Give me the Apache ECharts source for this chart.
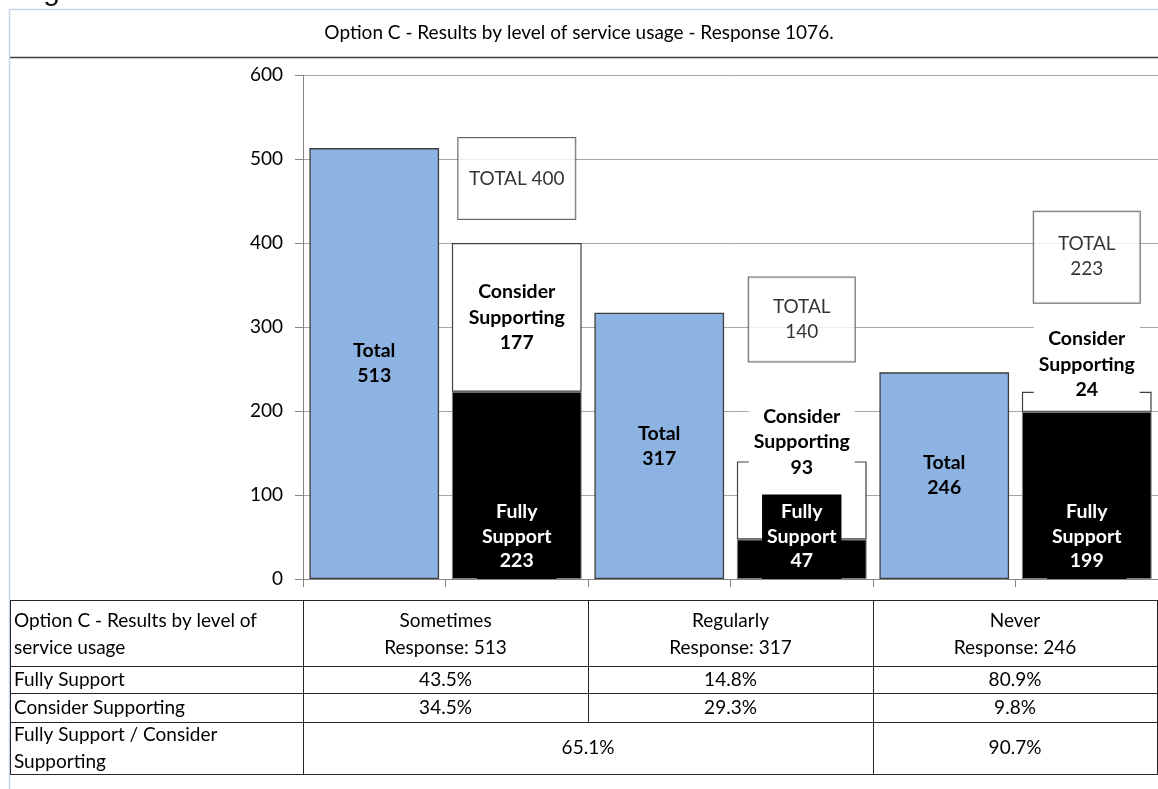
<!DOCTYPE html>
<html><head><meta charset="utf-8">
<script src="https://cdn.jsdelivr.net/npm/echarts@6/dist/echarts.min.js"></script>
<style>html,body{margin:0;padding:0;background:#fff}#c{width:1158px;height:789px}</style>
</head><body><div id="c"></div>
<script>
// ---- data ----
const groups = ['Sometimes', 'Regularly', 'Never'];
const totals = [513, 317, 246];
const fullySupport = [223, 47, 199];
const considerSupporting = [177, 93, 24];
const yTicks = [0, 100, 200, 300, 400, 500, 600];
const tableTitle = 'Option C - Results by level of\nservice usage';
const rowLabels = ['Fully Support', 'Consider Supporting', 'Fully Support / Consider\nSupporting'];
const fullyPct = ['43.5%', '14.8%', '80.9%'];
const considerPct = ['34.5%', '29.3%', '9.8%'];
const combinedPct = ['65.1%', '90.7%'];
const chartTitle = 'Option C - Results by level of service usage - Response 1076.';

// ---- layout/style (not data) ----
const FONT = 'Lato, "Open Sans", sans-serif';
const GL = 303, GR = 0, GT = 75, GB = 210;
const W = 1158;
const considerLabelPos = [{position: 'inside'}, {position: 'top', distance: -21}, {position: 'top', distance: -13}];
const totalBoxStyle = [
  {sep: ' ', distance: 24, width: 117, padding: [28, 0, 28, 0]},
  {sep: '\n', distance: 100, width: 106, padding: [17, 0, 17, 0]},
  {sep: '\n', distance: 89, width: 106, padding: [20, 0, 21, 0]}
];

// build 6 categories: each group has a "total" slot and a "support" slot
const cats = [];
groups.forEach(g => { cats.push(g + ' total'); cats.push(g + ' support'); });
const totalData = [], fullyData = [], considerData = [], boxData = [];
groups.forEach((g, i) => {
  totalData.push(totals[i], null);
  fullyData.push(null, fullySupport[i]);
  considerData.push(null, {value: considerSupporting[i], label: considerLabelPos[i]});
  const s = totalBoxStyle[i];
  boxData.push({
    value: [2 * i + 1, fullySupport[i] + considerSupporting[i]],
    label: {
      formatter: 'TOTAL' + s.sep + (fullySupport[i] + considerSupporting[i]),
      distance: s.distance, width: s.width, padding: s.padding
    }
  });
});

const chart = echarts.init(document.getElementById('c'), null, {renderer: 'canvas'});

const option = {
  animation: false,
  backgroundColor: '#fff',
  grid: {left: GL, right: GR, top: GT, bottom: GB, containLabel: false},
  xAxis: {
    type: 'category', data: cats,
    axisLine: {lineStyle: {color: '#868686', width: 1}},
    axisTick: {show: true, length: 8, lineStyle: {color: '#868686'}},
    axisLabel: {show: false},
    splitLine: {show: false}
  },
  yAxis: {
    type: 'value', min: 0, max: 600, interval: 100,
    axisLine: {show: true, lineStyle: {color: '#868686'}},
    axisTick: {show: true, length: 8, lineStyle: {color: '#868686'}},
    axisLabel: {color: '#000', fontSize: 19, fontFamily: FONT, margin: 20,
      formatter: v => yTicks.indexOf(v) >= 0 ? String(v) : ''},
    splitLine: {lineStyle: {color: '#a6a6a6', width: 1}}
  },
  series: [
    {
      type: 'bar', name: 'Total', stack: 's', data: totalData, barCategoryGap: '9%',
      itemStyle: {color: '#8db3e2', borderColor: '#3f3f3f', borderWidth: 1.3},
      label: {show: true, position: 'inside', formatter: 'Total\n{c}', color: '#000',
        fontWeight: 'bold', fontSize: 19.5, lineHeight: 25, fontFamily: FONT}
    },
    {
      type: 'bar', name: 'Fully Support', stack: 's', data: fullyData,
      itemStyle: {color: '#000', borderColor: '#7f7f7f', borderWidth: 1},
      label: {show: true, position: 'insideBottom', distance: 0, formatter: 'Fully\nSupport\n{c}',
        color: '#fff', fontWeight: 'bold', fontSize: 19.5, lineHeight: 24.5, fontFamily: FONT,
        backgroundColor: '#000', padding: [5, 5, 6, 5]}
    },
    {
      type: 'bar', name: 'Consider Supporting', stack: 's', data: considerData,
      itemStyle: {color: '#fff', borderColor: '#404040', borderWidth: 1.2},
      label: {show: true, formatter: 'Consider\nSupporting\n{c}', color: '#000',
        fontWeight: 'bold', fontSize: 19.5, lineHeight: 25.5, fontFamily: FONT,
        backgroundColor: '#fff', width: 106, align: 'center', padding: [2, 0, 2, 0]}
    },
    {
      type: 'scatter', name: 'TOTAL', data: boxData, symbolSize: 0, z: 5,
      label: {show: true, position: 'top', color: '#000', fontSize: 19, lineHeight: 25,
        fontFamily: FONT, backgroundColor: '#fff', borderColor: '#404040', borderWidth: 1,
        align: 'center'}
    }
  ]
};
chart.setOption(option);

// ---- frame, title and data table ----
const band = (W - GL - GR) / cats.length;
const colX = [10, GL, GL + 2 * band, GL + 4 * band, W - 1];
const rowY = [600, 666, 693, 722, 774];
const g = [];
const line = (x1, y1, x2, y2, color, w) => g.push({type: 'line', shape: {x1, y1, x2, y2},
  style: {stroke: color, lineWidth: w || 1}, silent: true});
const text = (x, y, t, align, extra) => g.push({type: 'text', x, y, silent: true,
  style: Object.assign({text: t, fill: '#000', font: '19px ' + FONT, align: align || 'left',
    verticalAlign: 'middle', lineHeight: 27}, extra || {})});

// partially visible heading above the chart frame
text(-5, -8, 'usage', 'left', {font: '30px "Liberation Sans", Arial, sans-serif', fill: '#111', verticalAlign: 'middle', lineHeight: 30});
// outer light frame
line(9.5, 9.5, W, 9.5, '#c9d5e6', 1.5);
line(9.5, 9.5, 9.5, 789, '#c9d5e6', 1.5);
// title + separator
text(W / 2, 33, chartTitle, 'center');
line(10, 57.5, W, 57.5, '#404040', 1.5);
// table lines
rowY.forEach(y => line(colX[0], y + 0.5, W, y + 0.5, '#262626', 1));
[0, 1, 3, 4].forEach(k => line(Math.round(colX[k]) + 0.5, rowY[0], Math.round(colX[k]) + 0.5, rowY[4], '#262626', 1));
line(Math.round(colX[2]) + 0.5, rowY[0], Math.round(colX[2]) + 0.5, rowY[3], '#262626', 1);
// header
text(14, (rowY[0] + rowY[1]) / 2 + 1, tableTitle, 'left');
groups.forEach((gname, i) => {
  const cx = (colX[i + 1] + colX[i + 2]) / 2;
  text(cx, (rowY[0] + rowY[1]) / 2 + 1, gname + '\nResponse: ' + totals[i], 'center');
  text(cx, (rowY[1] + rowY[2]) / 2, fullyPct[i], 'center');
  text(cx, (rowY[2] + rowY[3]) / 2, considerPct[i], 'center');
});
text(14, (rowY[1] + rowY[2]) / 2, rowLabels[0], 'left');
text(14, (rowY[2] + rowY[3]) / 2, rowLabels[1], 'left');
text(14, (rowY[3] + rowY[4]) / 2, rowLabels[2], 'left');
text((colX[1] + colX[3]) / 2, (rowY[3] + rowY[4]) / 2, combinedPct[0], 'center');
text((colX[3] + colX[4]) / 2, (rowY[3] + rowY[4]) / 2, combinedPct[1], 'center');

chart.setOption({graphic: {elements: g}});
</script>
</body></html>
